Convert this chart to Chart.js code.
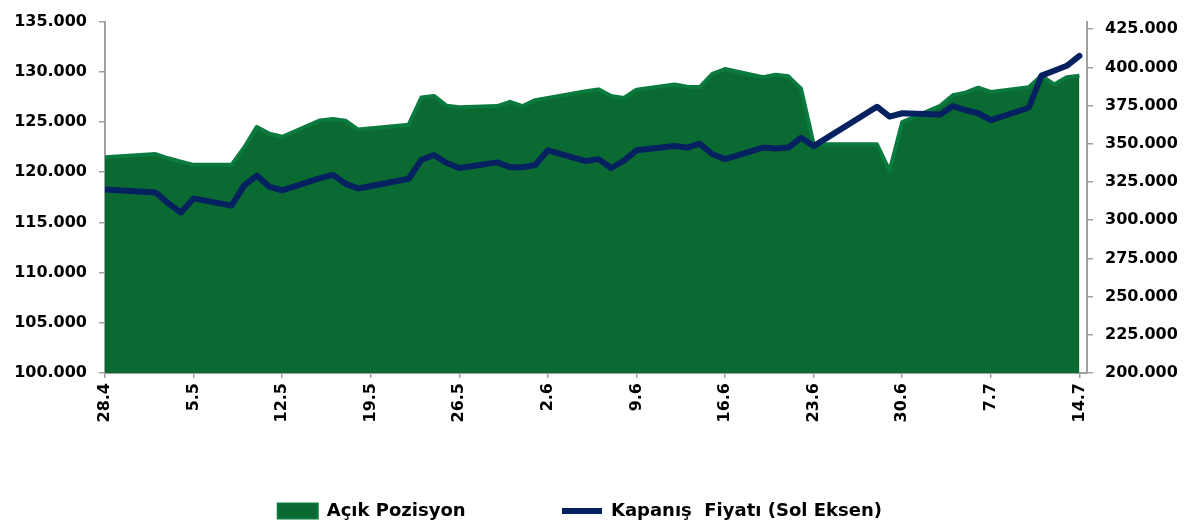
<!DOCTYPE html>
<html>
<head>
<meta charset="utf-8">
<script src="https://cdn.jsdelivr.net/npm/chart.js@4.4.1/dist/chart.umd.min.js"></script>
<style>
  html, body { margin: 0; padding: 0; background: #fff; }
  #wrap { width: 1191px; height: 528px; }
</style>
</head>
<body>
<div id="wrap"><canvas id="acikPozChart" width="1191" height="528"></canvas></div>
<script>
// islem gunleri (2017)
const dates = ['28.4', '2.5', '3.5', '4.5', '5.5', '8.5', '9.5', '10.5', '11.5', '12.5',
    '15.5', '16.5', '17.5', '18.5', '22.5', '23.5', '24.5', '25.5', '26.5',
    '29.5', '30.5', '31.5', '1.6', '2.6', '5.6', '6.6', '7.6', '8.6', '9.6',
    '12.6', '13.6', '14.6', '15.6', '16.6', '19.6', '20.6', '21.6', '22.6', '23.6',
    '28.6', '29.6', '30.6', '3.7', '4.7', '5.7', '6.7', '7.7',
    '10.7', '11.7', '12.7', '13.7', '14.7'];

const acikPozisyon = [341170, 343290, 340530, 338350, 336230, 336230, 347590, 361070, 356570, 354650,
    365300, 366200, 365110, 359330, 362540, 380320, 381350, 374930, 373900,
    374740, 377490, 374740, 378590, 380060, 384360, 385640, 381350, 380060, 385450,
    388850, 387380, 387120, 395720, 398930, 393540, 395270, 394180, 386090, 349710,
    349710, 332380, 364280, 374930, 381790, 383530, 386740, 383910,
    387120, 394630, 388850, 393540, 394630];

const kapanisFiyati = [118270, 117980, 116900, 115990, 117390, 116670, 118690, 119670, 118530, 118200,
    119410, 119740, 118860, 118370, 119350, 121230, 121720, 120910, 120420,
    120980, 120490, 120490, 120720, 122180, 121100, 121300, 120420, 121140, 122180,
    122600, 122450, 122840, 121790, 121300, 122450, 122350, 122450, 123430, 122600,
    126520, 125540, 125870, 125750, 126590, 126190, 125870, 125190,
    126420, 129620, 130110, 130600, 131580];

const xTickLabels = ['28.4', '5.5', '12.5', '19.5', '26.5', '2.6', '9.6', '16.6', '23.6', '30.6', '7.7', '14.7'];
const leftTicks = [100000, 105000, 110000, 115000, 120000, 125000, 130000, 135000];
const rightTicks = [200000, 225000, 250000, 275000, 300000, 325000, 350000, 375000, 400000, 425000];

function dayIndex(s) {
    const [d, m] = s.split('.').map(Number);
    return Math.round((Date.UTC(2017, m - 1, d) - Date.UTC(2017, 3, 28)) / 86400000);
}

function fmt(v) {
    return String(v).replace(/\B(?=(\d{3})+(?!\d))/g, '.');
}

const xDays = dates.map(dayIndex);
const xTickDays = xTickLabels.map(dayIndex);

const tickFont = { family: 'DejaVu Sans', size: 16, weight: 'bold' };
const axisGrey = '#a0a0a0';

function renderChart() {
    const ctx = document.getElementById('acikPozChart').getContext('2d');
    new Chart(ctx, {
        type: 'line',
        data: {
            datasets: [{
                label: 'Açık Pozisyon',
                data: xDays.map((x, i) => ({ x: x, y: acikPozisyon[i] })),
                yAxisID: 'yRight',
                fill: 'start',
                backgroundColor: '#0a6a32',
                borderColor: '#0b7a3e',
                borderWidth: 4,
                borderJoinStyle: 'round',
                pointRadius: 0,
                tension: 0,
                order: 1
            }, {
                label: 'Kapanış  Fiyatı (Sol Eksen)',
                data: xDays.map((x, i) => ({ x: x, y: kapanisFiyati[i] })),
                yAxisID: 'yLeft',
                fill: false,
                borderColor: '#06215f',
                backgroundColor: '#06215f',
                borderWidth: 6,
                borderJoinStyle: 'round',
                borderCapStyle: 'round',
                pointRadius: 0,
                tension: 0,
                order: 0
            }]
        },
        options: {
            responsive: false,
            animation: false,
            layout: { padding: { top: 15, right: 0, bottom: -2, left: 0 } },
            plugins: {
                tooltip: { enabled: false },
                legend: {
                    position: 'bottom',
                    labels: {
                        font: { family: 'DejaVu Sans', size: 18, weight: 'bold' },
                        color: '#000',
                        padding: 40,
                        usePointStyle: true,
                        pointStyleWidth: 40,
                        boxHeight: 15,
                        sort: (a, b) => a.datasetIndex - b.datasetIndex,
                        generateLabels: function (chart) {
                            const items = Chart.defaults.plugins.legend.labels.generateLabels(chart);
                            items.forEach(it => {
                                // bosluklar sadece araligi ayarlamak icin
                                if (it.datasetIndex === 0) {
                                    it.pointStyle = 'rect';
                                    it.lineWidth = 2;
                                    it.text = it.text + ' '.repeat(9);
                                } else {
                                    it.pointStyle = 'line';
                                    it.lineWidth = 6;
                                    it.text = it.text + ' '.repeat(5);
                                }
                            });
                            return items;
                        }
                    }
                }
            },
            scales: {
                x: {
                    type: 'linear',
                    min: 0,
                    max: 77.6,
                    afterFit: s => { s.height = 89; },
                    afterBuildTicks: s => { s.ticks = xTickDays.map(v => ({ value: v })); },
                    grid: { drawOnChartArea: false, drawTicks: true, tickLength: 5, color: axisGrey, lineWidth: 1.5 },
                    border: { display: true, color: axisGrey, width: 2 },
                    ticks: {
                        autoSkip: false,
                        maxRotation: 90,
                        minRotation: 90,
                        padding: 5,
                        font: tickFont,
                        color: '#000',
                        callback: v => {
                            const i = xTickDays.indexOf(v);
                            return i >= 0 ? xTickLabels[i] : '';
                        }
                    }
                },
                yLeft: {
                    position: 'left',
                    min: 100000,
                    max: 135000,
                    afterFit: s => { s.width = 105; },
                    afterBuildTicks: s => { s.ticks = leftTicks.map(v => ({ value: v })); },
                    grid: { drawOnChartArea: false, tickLength: 6, color: axisGrey, lineWidth: 1.5 },
                    border: { display: true, color: axisGrey, width: 2 },
                    ticks: { padding: 12, font: tickFont, color: '#000', callback: v => fmt(v) }
                },
                yRight: {
                    position: 'right',
                    min: 200000,
                    max: 430000,
                    afterFit: s => { s.width = 104; },
                    afterBuildTicks: s => { s.ticks = rightTicks.map(v => ({ value: v })); },
                    grid: { drawOnChartArea: false, tickLength: 6, color: axisGrey, lineWidth: 1.5 },
                    border: { display: true, color: axisGrey, width: 2 },
                    ticks: { padding: 12, font: tickFont, color: '#000', callback: v => fmt(v) }
                }
            }
        }
    });
}

renderChart();
</script>
</body>
</html>
